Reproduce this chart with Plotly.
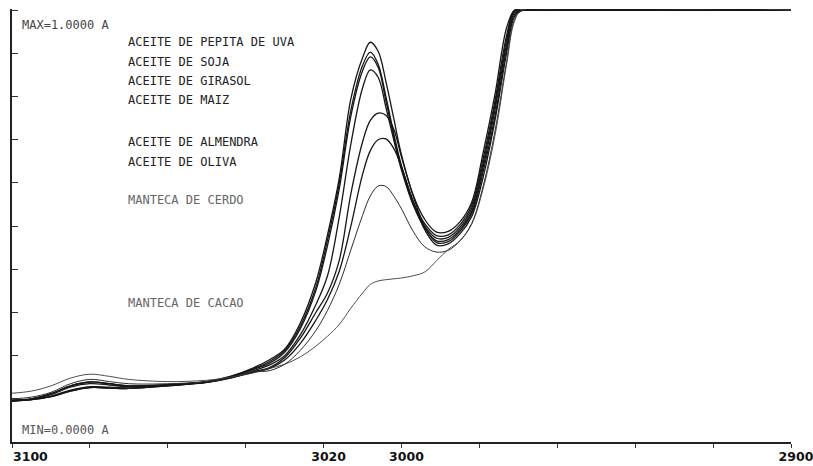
import plotly.graph_objects as go

# ---- data (wavenumber grid, cm-1) ----
wn = [3100, 3095, 3090, 3085, 3080, 3075, 3070, 3060, 3050, 3044,
      3038, 3034, 3030, 3026, 3022, 3019, 3016, 3013, 3010, 3008,
      3006, 3004, 3002, 3000, 2997, 2994, 2991, 2988, 2985, 2982,
      2979, 2976, 2973, 2971, 2969, 2900]

pepita = [0.097, 0.100, 0.112, 0.130, 0.139, 0.135, 0.130, 0.133, 0.140, 0.152,
          0.172, 0.190, 0.215, 0.275, 0.370, 0.480, 0.610, 0.795, 0.890, 0.926,
          0.905, 0.835, 0.750, 0.665, 0.572, 0.515, 0.486, 0.488, 0.510, 0.555,
          0.672, 0.805, 0.960, 1.0, 1.0, 1.0]
soja = [0.097, 0.100, 0.112, 0.130, 0.139, 0.135, 0.130, 0.133, 0.140, 0.151,
        0.170, 0.186, 0.212, 0.268, 0.358, 0.468, 0.598, 0.768, 0.872, 0.903,
        0.875, 0.800, 0.715, 0.640, 0.557, 0.505, 0.478, 0.480, 0.503, 0.548,
        0.658, 0.790, 0.942, 1.0, 1.0, 1.0]
girasol = [0.096, 0.099, 0.110, 0.127, 0.135, 0.132, 0.128, 0.132, 0.139, 0.150,
           0.168, 0.182, 0.208, 0.262, 0.350, 0.455, 0.585, 0.755, 0.860, 0.892,
           0.868, 0.790, 0.708, 0.635, 0.552, 0.500, 0.472, 0.474, 0.497, 0.541,
           0.648, 0.780, 0.932, 0.998, 1.0, 1.0]
maiz = [0.095, 0.098, 0.106, 0.120, 0.128, 0.127, 0.125, 0.131, 0.139, 0.149,
        0.165, 0.178, 0.200, 0.248, 0.318, 0.385, 0.520, 0.690, 0.820, 0.862,
        0.845, 0.775, 0.700, 0.630, 0.549, 0.495, 0.466, 0.469, 0.492, 0.534,
        0.638, 0.770, 0.922, 0.994, 1.0, 1.0]
almendra = [0.095, 0.098, 0.105, 0.118, 0.126, 0.125, 0.124, 0.130, 0.138, 0.148,
            0.163, 0.172, 0.195, 0.240, 0.300, 0.345, 0.420, 0.575, 0.695, 0.745,
            0.762, 0.757, 0.725, 0.660, 0.570, 0.498, 0.462, 0.464, 0.488, 0.529,
            0.628, 0.755, 0.912, 0.990, 1.0, 1.0]
oliva = [0.095, 0.098, 0.105, 0.118, 0.126, 0.125, 0.124, 0.130, 0.138, 0.148,
         0.162, 0.170, 0.190, 0.228, 0.282, 0.330, 0.395, 0.500, 0.620, 0.675,
         0.700, 0.702, 0.680, 0.637, 0.558, 0.491, 0.456, 0.459, 0.482, 0.522,
         0.615, 0.745, 0.902, 0.985, 1.0, 1.0]
cerdo = [0.100, 0.104, 0.115, 0.135, 0.145, 0.140, 0.135, 0.135, 0.140, 0.149,
         0.162, 0.165, 0.180, 0.212, 0.258, 0.305, 0.365, 0.445, 0.525, 0.570,
         0.593, 0.592, 0.570, 0.540, 0.488, 0.452, 0.440, 0.444, 0.466, 0.506,
         0.594, 0.720, 0.882, 0.978, 1.0, 1.0]
cacao = [0.113, 0.118, 0.130, 0.148, 0.157, 0.152, 0.145, 0.140, 0.143, 0.150,
         0.160, 0.170, 0.180, 0.197, 0.222, 0.245, 0.272, 0.310, 0.345, 0.365,
         0.373, 0.376, 0.378, 0.380, 0.385, 0.394, 0.420, 0.446, 0.466, 0.504,
         0.588, 0.710, 0.876, 0.974, 1.0, 1.0]

series = [
    ("ACEITE DE PEPITA DE UVA", pepita),
    ("ACEITE DE SOJA", soja),
    ("ACEITE DE GIRASOL", girasol),
    ("ACEITE DE MAIZ", maiz),
    ("ACEITE DE ALMENDRA", almendra),
    ("ACEITE DE OLIVA", oliva),
    ("MANTECA DE CERDO", cerdo),
    ("MANTECA DE CACAO", cacao),
]

x_ticks = [3100, 3080, 3060, 3040, 3020, 3000, 2980, 2960, 2940, 2920, 2900]
x_ticktext = ["", "", "", "", "3020", "3000", "", "", "", "", "2900"]
first_tick_label = "3100"
y_ticks = [0.0, 0.1, 0.2, 0.3, 0.4, 0.5, 0.6, 0.7, 0.8, 0.9, 1.0]

label_y = [0.926, 0.880, 0.836, 0.792, 0.694, 0.648, 0.560, 0.322]
label_wn = 3070.7

tickfont = dict(family="DejaVu Sans", size=12.5, color="#111111", weight="bold")

fig = go.Figure()
for i, (name, vals) in enumerate(series):
    if i < 6:
        col, w = "#161616", 1.3
    elif i == 6:
        col, w = "#2e2e2e", 1.0
    else:
        col, w = "#3a3a3a", 0.9
    fig.add_trace(go.Scatter(
        x=wn, y=vals, mode="lines", name=name,
        line=dict(color=col, width=w, shape="spline", smoothing=1.0),
        showlegend=False, hoverinfo="skip"))

mono = "DejaVu Sans Mono"
for i, (name, _) in enumerate(series):
    col = "#222222" if i < 6 else "#666666"
    fig.add_annotation(x=label_wn, y=label_y[i], text=name, showarrow=False,
                       xanchor="left", yanchor="middle",
                       font=dict(family=mono, size=12, color=col))

fig.add_annotation(x=3097.9, y=0.965, text="MAX=1.0000 A", showarrow=False,
                   xanchor="left", yanchor="middle",
                   font=dict(family=mono, size=12, color="#444444"))
fig.add_annotation(x=3097.9, y=0.028, text="MIN=0.0000 A", showarrow=False,
                   xanchor="left", yanchor="middle",
                   font=dict(family=mono, size=12, color="#555555"))

# first x tick label, left-aligned at its tick (as in the original plotter output)
fig.add_annotation(x=x_ticks[0], y=0, yref="paper", text=first_tick_label,
                   showarrow=False, xanchor="left", yanchor="middle",
                   yshift=-14, xshift=-1, font=tickfont)

fig.update_layout(
    width=813, height=466, autosize=False,
    margin=dict(l=12, r=22, t=9, b=24, pad=0, autoexpand=False),
    paper_bgcolor="white", plot_bgcolor="white",
    xaxis=dict(range=[3100, 2900], showgrid=False, zeroline=False, automargin=False,
               showline=True, linecolor="#222222", linewidth=1.5,
               ticks="outside", ticklen=4, tickwidth=1, tickcolor="#333333",
               tickvals=x_ticks, ticktext=x_ticktext,
               ticklabeloverflow="allow", ticklabelstandoff=-2, ticklabelshift=-5,
               tickfont=tickfont),
    yaxis=dict(range=[0, 1.003], showgrid=False, zeroline=False, automargin=False,
               showline=True, linecolor="#222222", linewidth=1.5,
               ticks="inside", ticklen=6, tickwidth=1, tickcolor="#333333",
               tickvals=y_ticks, showticklabels=False),
)

fig.write_html("out.html")
